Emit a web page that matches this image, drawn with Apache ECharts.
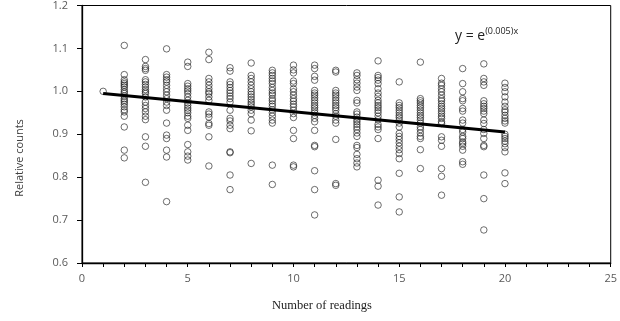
<!DOCTYPE html>
<html><head><meta charset="utf-8">
<script src="https://cdn.jsdelivr.net/npm/echarts@6/dist/echarts.min.js"></script>
<style>html,body{margin:0;padding:0;background:#fff}#c{width:620px;height:321px}</style>
</head><body><div id="c"></div>
<script>
const readings = [1,2,3,4,5,6,7,8,9,10,11,12,13,14,15,16,17,18,19,20];
const col1 = [1.000];
const col2 = [1.107,1.039,1.027,1.022,1.018,1.014,1.010,1.004,0.999,0.995,0.989,0.983,0.979,0.975,0.970,0.964,0.957,0.952,0.942,0.917,0.863,0.845];
const col3 = [1.074,1.058,1.053,1.049,1.027,1.022,1.016,1.010,1.004,0.999,0.995,0.987,0.975,0.967,0.960,0.952,0.942,0.934,0.894,0.872,0.788];
const col4 = [1.099,1.039,1.033,1.027,1.022,1.014,1.006,0.999,0.991,0.983,0.975,0.967,0.956,0.926,0.898,0.890,0.863,0.847,0.743];
const col5 = [1.068,1.058,1.018,1.012,1.006,1.001,0.995,0.987,0.979,0.973,0.967,0.961,0.956,0.950,0.942,0.937,0.921,0.909,0.876,0.859,0.849,0.840];
const col6 = [1.091,1.074,1.030,1.022,1.014,1.006,0.999,0.995,0.987,0.979,0.952,0.947,0.940,0.925,0.921,0.894,0.826];
const col7 = [1.055,1.047,1.022,1.016,1.009,1.002,0.996,0.989,0.983,0.975,0.956,0.937,0.931,0.921,0.913,0.859,0.857,0.805,0.771];
const col8 = [1.066,1.037,1.030,1.022,1.014,1.006,0.999,0.993,0.987,0.981,0.975,0.970,0.964,0.956,0.948,0.933,0.908,0.832];
const col9 = [1.049,1.043,1.037,1.030,1.024,1.018,1.009,1.002,0.996,0.991,0.983,0.978,0.971,0.965,0.957,0.950,0.942,0.933,0.926,0.828,0.783];
const col10 = [1.061,1.050,1.043,1.024,1.018,1.006,0.999,0.991,0.983,0.977,0.970,0.964,0.956,0.948,0.939,0.909,0.890,0.828,0.824];
const col11 = [1.061,1.053,1.035,1.026,1.002,0.996,0.991,0.985,0.979,0.973,0.967,0.962,0.956,0.950,0.944,0.937,0.929,0.909,0.874,0.871,0.815,0.771,0.712];
const col12 = [1.049,1.045,1.002,0.996,0.991,0.985,0.979,0.973,0.967,0.962,0.956,0.948,0.942,0.933,0.926,0.888,0.785,0.781];
const col13 = [1.043,1.037,1.027,1.019,1.010,1.002,0.979,0.973,0.952,0.947,0.940,0.934,0.929,0.923,0.917,0.911,0.903,0.895,0.874,0.869,0.853,0.843,0.833,0.824];
const col14 = [1.071,1.037,1.032,1.026,1.018,1.006,0.996,0.988,0.979,0.973,0.967,0.962,0.956,0.950,0.942,0.934,0.923,0.917,0.911,0.890,0.793,0.779,0.735];
const col15 = [1.022,0.973,0.967,0.962,0.956,0.950,0.944,0.939,0.933,0.926,0.917,0.902,0.895,0.888,0.880,0.872,0.864,0.855,0.843,0.809,0.754,0.719];
const col16 = [1.068,0.983,0.978,0.973,0.967,0.962,0.956,0.950,0.944,0.939,0.933,0.926,0.917,0.911,0.903,0.895,0.890,0.864,0.820];
const col17 = [1.030,1.019,1.014,1.006,0.999,0.991,0.983,0.978,0.971,0.965,0.960,0.954,0.948,0.942,0.937,0.929,0.925,0.894,0.886,0.872,0.820,0.802,0.758];
const col18 = [1.053,1.018,0.999,0.983,0.978,0.960,0.954,0.933,0.926,0.911,0.905,0.895,0.890,0.882,0.878,0.872,0.863,0.836,0.830];
const col19 = [1.064,1.030,1.022,1.014,0.978,0.971,0.965,0.960,0.954,0.948,0.933,0.925,0.911,0.902,0.890,0.874,0.871,0.805,0.750,0.677];
const col20 = [1.019,1.009,0.999,0.987,0.975,0.965,0.957,0.952,0.944,0.937,0.931,0.926,0.900,0.895,0.890,0.884,0.878,0.869,0.859,0.810,0.785];
const columns = [col1,col2,col3,col4,col5,col6,col7,col8,col9,col10,col11,col12,col13,col14,col15,col16,col17,col18,col19,col20];
const trendX = [1, 20];
const trendY = [0.995, 0.905];
const xTicks = [0, 5, 10, 15, 20, 25];

const points = [];
readings.forEach((r, i) => columns[i].forEach(v => points.push([r, v])));
const trend = trendX.map((x, i) => [x, trendY[i]]);

const labelColor = '#595959';
const chart = echarts.init(document.getElementById('c'), null, {renderer: 'canvas'});
chart.setOption({
  animation: false,
  backgroundColor: '#fff',
  grid: {left: 82, top: 5, right: 7, bottom: 58, show: true, borderColor: '#000', borderWidth: 1},
  xAxis: {
    type: 'value', min: 0, max: 25, interval: 1,
    axisLine: {lineStyle: {color: '#000', width: 1.3}},
    axisTick: {show: true, length: 4, lineStyle: {color: '#000'}},
    axisLabel: {color: labelColor, fontFamily: 'Open Sans', fontSize: 11, margin: 10,
      formatter: v => xTicks.includes(v) ? String(v) : ''},
    splitLine: {show: false}
  },
  yAxis: {
    type: 'value', min: 0.6, max: 1.2, interval: 0.1,
    axisLine: {show: true, lineStyle: {color: '#000', width: 1.3}},
    axisTick: {show: true, length: 5, lineStyle: {color: '#000'}},
    axisLabel: {color: labelColor, fontFamily: 'Open Sans', fontSize: 11, margin: 14,
      formatter: v => v.toFixed(1)},
    splitLine: {show: false}
  },
  graphic: [
    {type: 'text', x: 20, y: 158, rotation: Math.PI / 2, style: {
      text: 'Relative counts', font: '11px "Open Sans"', fill: '#404040', align: 'center', verticalAlign: 'middle'}},
    {type: 'text', x: 322, y: 306, style: {
      text: 'Number of readings', font: '12.5px "Liberation Serif"', fill: '#222', align: 'center', verticalAlign: 'middle'}},
    {type: 'text', x: 455, y: 36, style: {
      rich: {
        b: {font: '14px "Open Sans"', fill: '#222'},
        s: {font: '9px "Open Sans"', fill: '#222', padding: [0, 0, 10, 0]}
      },
      text: '{b|y = e}{s|(0.005)x}', verticalAlign: 'middle'}}
  ],
  series: [
    {type: 'scatter', data: points, symbol: 'circle', symbolSize: 6.5,
      itemStyle: {color: 'rgba(0,0,0,0)', borderColor: '#1a1a1a', borderWidth: 0.8}, z: 2},
    {type: 'line', data: trend, symbol: 'none', lineStyle: {color: '#000', width: 3}, z: 3}
  ]
});
</script></body></html>
